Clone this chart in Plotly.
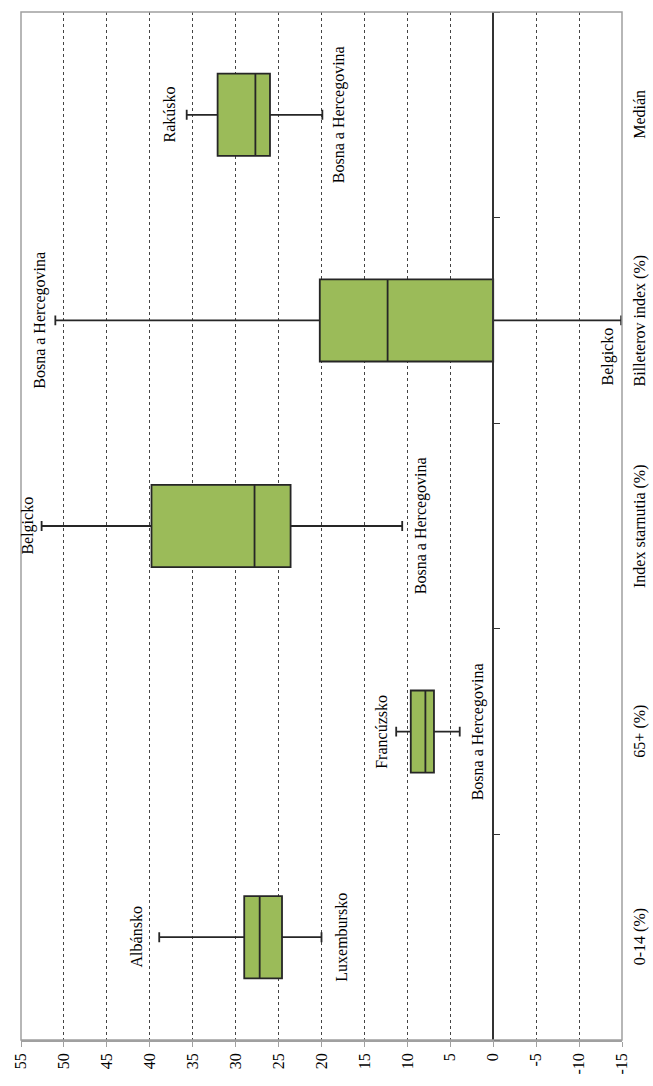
import plotly.graph_objects as go

# Summary statistics per indicator (values in %)
categories = ["0-14 (%)", "65+ (%)", "Index starnutia (%)", "Billeterov index (%)", "Medián"]
maxima = [38.9, 11.3, 52.6, 51.0, 35.7]
q3 = [29.0, 9.6, 39.8, 20.2, 32.1]
median = [27.2, 7.9, 27.8, 12.3, 27.7]
q1 = [24.6, 6.9, 23.6, 0.0, 26.0]
minima = [20.0, 3.9, 10.6, -14.9, 19.9]

# Countries holding the extreme values
max_labels = ["Albánsko", "Francúzsko", "Belgicko", "Bosna a Hercegovina", "Rakúsko"]
min_labels = ["Luxembursko", "Bosna a Hercegovina", "Bosna a Hercegovina", "Belgicko", "Bosna a Hercegovina"]

value_ticks = [55, 50, 45, 40, 35, 30, 25, 20, 15, 10, 5, 0, -5, -10, -15]

# Pixel offsets of the country labels from the whisker ends
max_label_shift = [-23, -15, -14, -15, -17]
min_label_shift = [(20, 0), (18, 0), (19, 0), (-13, -36), (16, 0)]

FONT = "Liberation Serif, Times New Roman, serif"
GREEN = "#9BBB59"
DARK = "#262626"
FRAME = "#a0a0a0"

fig = go.Figure()
fig.add_trace(go.Box(
    y=categories,
    q1=q1, median=median, q3=q3,
    lowerfence=minima, upperfence=maxima,
    orientation="h",
    fillcolor=GREEN,
    line=dict(color=DARK, width=1.8),
    width=0.4,
    whiskerwidth=0.12,
    boxpoints=False,
    hoverinfo="skip",
    showlegend=False,
))

annotations = []
for cat, vmax, vmin, lmax, lmin, sx, (rx, ry) in zip(
        categories, maxima, minima, max_labels, min_labels,
        max_label_shift, min_label_shift):
    annotations.append(dict(
        x=vmax, y=cat, xref="x", yref="y", text=lmax, textangle=-90,
        showarrow=False, xanchor="center", yanchor="middle", xshift=sx,
        font=dict(family=FONT, size=16, color="black")))
    annotations.append(dict(
        x=vmin, y=cat, xref="x", yref="y", text=lmin, textangle=-90,
        showarrow=False, xanchor="center", yanchor="middle", xshift=rx, yshift=ry,
        font=dict(family=FONT, size=16, color="black")))

# Category names along the right edge
for cat in categories:
    annotations.append(dict(
        x=1.03, y=cat, xref="paper", yref="y", text=cat, textangle=-90,
        showarrow=False, xanchor="center", yanchor="middle",
        font=dict(family=FONT, size=16, color="black")))

fig.update_layout(
    width=653, height=1086,
    margin=dict(l=17, r=31, t=12, b=41),
    paper_bgcolor="white", plot_bgcolor="white",
    annotations=annotations,
    shapes=[dict(type="rect", xref="paper", yref="paper", x0=0, x1=1, y0=0, y1=1,
                 line=dict(color=FRAME, width=1.5), layer="above")],
    xaxis=dict(
        range=[55, -15],
        tickmode="array", tickvals=value_ticks, ticktext=[str(v) for v in value_ticks],
        tickangle=-90, tickfont=dict(family=FONT, size=16, color="black"),
        ticks="outside", ticklen=5, tickcolor=FRAME,
        showline=True, linecolor=FRAME, linewidth=1.5,
        showgrid=True, gridcolor="#444444", griddash="3px,3px", gridwidth=1,
        zeroline=False,
    ),
    yaxis=dict(
        type="category", categoryorder="array", categoryarray=categories,
        range=[-0.5, 4.5],
        anchor="free", position=55 / 70, side="right",
        showline=True, linecolor="#333333", linewidth=1.5,
        ticks="outside", ticklen=6, tickcolor="#333333", tickson="boundaries",
        showticklabels=False, showgrid=False, zeroline=False,
    ),
)

fig.write_html("out.html")
